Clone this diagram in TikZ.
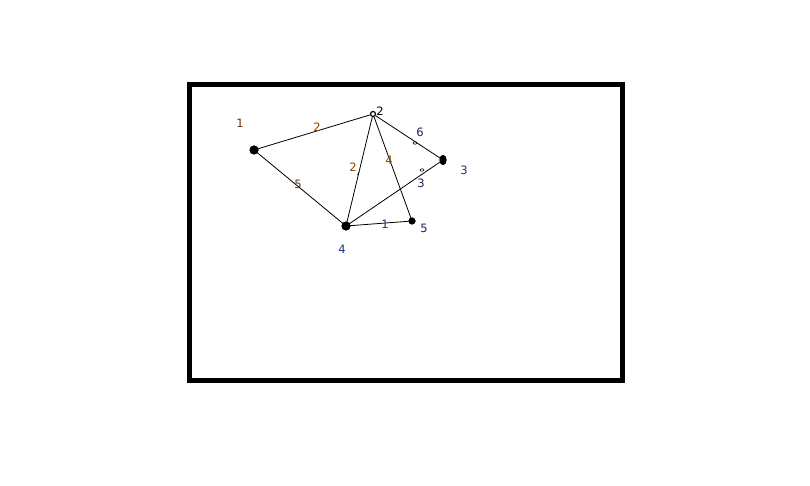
\documentclass[tikz,border=0pt]{standalone}
\usepackage{fontspec}
\setmainfont{DejaVu Sans}
\usetikzlibrary{shapes.geometric}
\definecolor{brn}{RGB}{100,50,20}
\definecolor{org}{RGB}{130,70,10}
\definecolor{blu}{RGB}{20,55,125}
\definecolor{nav}{RGB}{25,35,75}
\begin{document}
\begin{tikzpicture}[x=1pt,y=-1pt,
  dot/.style={circle,fill=black,inner sep=0pt,minimum size=#1},
  oval/.style={ellipse,fill=black,inner sep=0pt,minimum width=7pt,minimum height=10pt},
  lbl/.style={inner sep=0pt,font=\fontsize{11.5}{11.5}\selectfont},
  edge/.style={draw=black,line width=0.8pt},
  tick/.style={draw=black,line width=0.6pt}]
\useasboundingbox (0,0) rectangle (810,486);
\draw[line width=5pt] (189.5,84.5) rectangle (622,380.5);
% vertices
\node[dot=9pt] (n1) at (254,150) {};
\node[circle,draw=black,fill=white,line width=1.2pt,inner sep=0pt,minimum size=5pt] (n2) at (373,114) {};
\node[oval] (n3) at (443,160) {};
\node[dot=9pt] (n4) at (346,226) {};
\node[dot=7pt] (n5) at (412,221) {};
% edges
\draw[edge] (n1.center) -- (n2);
\draw[edge] (n1.center) -- (n4.center);
\draw[edge] (n2) -- (n4.center);
\draw[edge] (n2) -- (n5.center);
\draw[edge] (n2) -- (n3.center);
\draw[edge] (n4.center) -- (n3.center);
\draw[edge] (n4.center) -- (n5.center);
\node[dot=9pt] at (n1) {};
\node[dot=9pt] at (n4) {};
\node[dot=7pt] at (n5) {};
\node[oval] at (n3) {};
% small marks
\coordinate (m1) at (415,143);
\coordinate (m2) at (422,170);
\coordinate (m3) at (359,172);
\draw[tick] (m1) ellipse (2pt and 1.2pt);
\draw[tick] (m2) ellipse (2pt and 1.2pt);
\draw[tick] (m3) -- ++(-1.5,3);
% labels
\node[lbl,text=brn] (l1) at (240,123) {1};
\node[lbl,text=black] (l2) at (380,111) {2};
\node[lbl,text=blu] (l3) at (464,170) {3};
\node[lbl,text=blu] (l4) at (342,249) {4};
\node[lbl,text=nav] (l5) at (424,228) {5};
\node[lbl,text=org] (e12) at (317,127) {2};
\node[lbl,text=brn] (e14) at (298,184) {5};
\node[lbl,text=org] (e24) at (353,167) {2};
\node[lbl,text=org] (e25) at (389,160) {4};
\node[lbl,text=nav] (e23) at (420,132) {6};
\node[lbl,text=nav] (e43) at (421,183) {3};
\node[lbl,text=blu] (e45) at (385,224) {1};
\end{tikzpicture}
\end{document}
